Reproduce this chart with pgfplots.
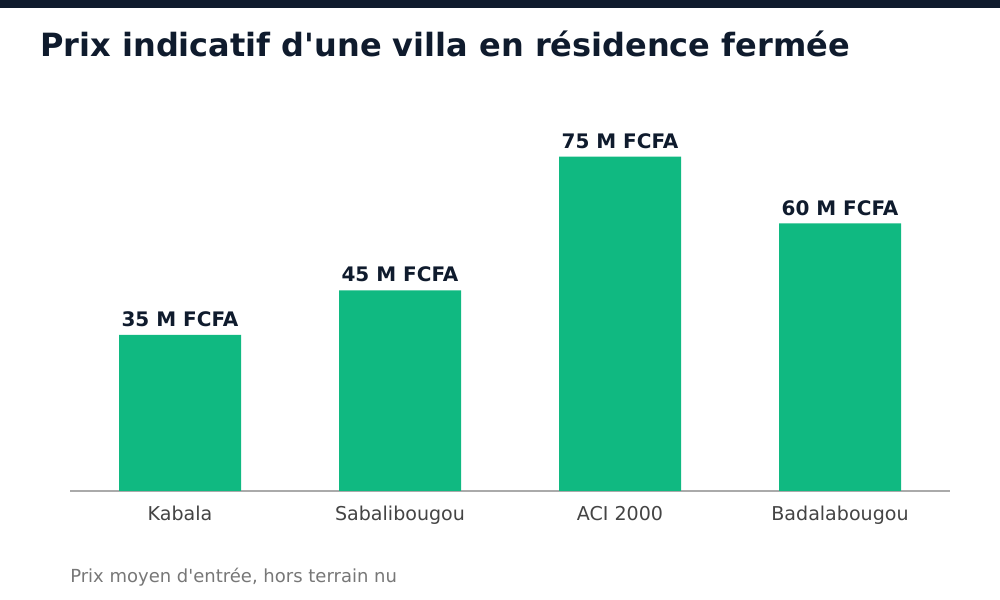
\documentclass[border=0pt]{standalone}
\usepackage{pgfplots}
\pgfplotsset{compat=1.18}
\usepackage{fontspec}
\setmainfont{DejaVu Sans}
\definecolor{navy}{HTML}{0F1B2D}
\definecolor{bargreen}{HTML}{10B981}
\definecolor{axisgray}{HTML}{AAAAAA}
\definecolor{ticktext}{HTML}{444444}
\definecolor{foot}{HTML}{777777}
\begin{document}
\begin{tikzpicture}
\begin{scope}[x=0.75pt,y=0.75pt]
\fill[white] (0,0) rectangle (1000,600);
\fill[navy] (0,592) rectangle (1000,600);
\node[anchor=base west,inner sep=0,text=navy,font=\fontsize{24}{28}\selectfont\bfseries] at (40,543) {Prix indicatif d\textquotesingle une villa en résidence fermée};
\node[anchor=base west,inner sep=0,text=foot,font=\fontsize{13.5}{16}\selectfont] at (70,17) {Prix moyen d\textquotesingle entrée, hors terrain nu};
\end{scope}
\begin{axis}[
  at={(52.5pt,81.75pt)}, anchor=south west,
  scale only axis, width=660pt, height=301.05pt,
  xmin=-0.5, xmax=3.5, ymin=0, ymax=90,
  axis x line=bottom, axis y line=none,
  x axis line style={draw=axisgray, line width=1pt, -},
  xtick={0,1,2,3}, xtick style={draw=none},
  xticklabels={Kabala,Sabalibougou,ACI 2000,Badalabougou},
  xticklabel style={anchor=base, yshift=-17.5pt, text=ticktext, font=\fontsize{14.3}{17}\selectfont},
  ybar, bar width=91.5pt,
  clip=false,
  nodes near coords={\pgfmathprintnumber[assume math mode=true]{\pgfplotspointmeta} M FCFA},
  nodes near coords style={anchor=base, yshift=6.3pt, inner sep=0, text=navy, font=\fontsize{15}{18}\selectfont\bfseries},
]
\addplot[fill=bargreen, draw=none] coordinates {(0,35) (1,45) (2,75) (3,60)};
\end{axis}
\end{tikzpicture}
\end{document}
